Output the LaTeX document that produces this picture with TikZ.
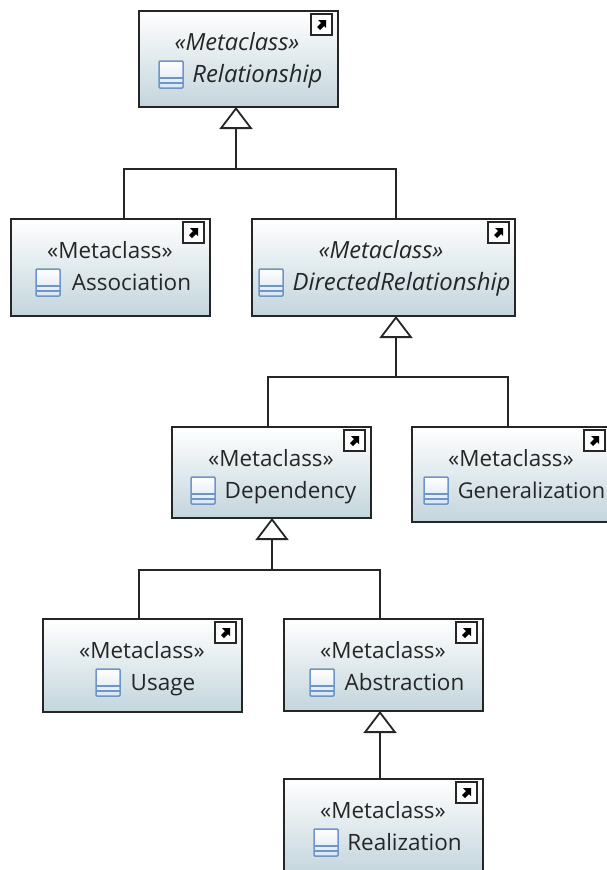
\documentclass[tikz,border=0pt]{standalone}
\usepackage{fontspec}
\setmainfont{Open Sans}
\usetikzlibrary{arrows.meta,calc}
\definecolor{boxblue}{HTML}{C3D5DC}
\definecolor{iconblue}{HTML}{6C96C8}
\tikzset{
  x=1pt,y=-1pt,
  classbox/.style={draw=black!85,line width=2pt,top color=white,bottom color=boxblue,anchor=north west,inner sep=0pt,outer sep=0pt},
  stereotext/.style={text=black!85,inner sep=0pt,anchor=base},
  nametext/.style={text=black!85,inner sep=0pt,anchor=base},
  conn/.style={draw=black!85,line width=1.8pt},
  genarrow/.style={conn,-{Triangle[open,length=22pt,width=33pt,fill=white,line width=1.8pt]}},
  iconstyle/.style={draw=iconblue,line width=1.5pt,rounded corners=1pt},
}
\newcommand{\StereoFont}{}
\newcommand{\NameFont}{}
\newcommand{\mclass}[9]{%
 % #1 name, #2 left, #3 top, #4 width, #5 height, #6 stereo centre x, #7 icon left, #8 text centre x, #9 text
 \node[classbox,minimum width=#4pt,minimum height=#5pt] (#1) at (#2,#3) {};
 \node[stereotext] (#1s) at (#6,#3+39) {\StereoFont\guillemotleft Metaclass\guillemotright};
 \node[nametext] (#1n) at (#8,#3+71) {\NameFont #9};
 \begin{scope}[shift={(#7,#3+50)}]
  \fill[top color=white,bottom color=iconblue!25] (0,0) rectangle (24,27);
  \draw[iconstyle] (0,0) rectangle (24,27);
  \draw[iconblue,line width=1.4pt] (0,17)--(24,17) (0,22)--(24,22);
 \end{scope}
 \begin{scope}[shift={(#2+#4-27,#3+3)}]
  \fill[white] (0,0) rectangle (21,21);
  \draw[black!85,line width=1.6pt] (0,0) rectangle (21,21);
  \fill[black] (7,6)--(15,6)--(15,14)--(13,12)--(9,16)--(6,13)--(10,9)--cycle;
 \end{scope}
}
\begin{document}
\begin{tikzpicture}
\useasboundingbox (0,0) rectangle (607,870);
\fill[white] (0,0) rectangle (607,870);
\renewcommand{\StereoFont}{\fontsize{23.6}{26}\selectfont\itshape}
\renewcommand{\NameFont}{\fontsize{23.9}{26}\selectfont\itshape}
\mclass{rel}{139}{11}{199}{96}{237}{159}{257.5}{Relationship}
\mclass{dirrel}{252}{219}{263}{97}{381}{259}{401.5}{DirectedRelationship}
\renewcommand{\StereoFont}{\fontsize{22.4}{26}\selectfont}
\renewcommand{\NameFont}{\fontsize{22.5}{26}\selectfont}
\mclass{assoc}{11}{219}{199}{97}{110}{36}{131.5}{Association}
\mclass{dep}{172}{427}{199}{91}{271}{191}{290.5}{Dependency}
\mclass{usage}{43}{619}{199}{93}{142}{96}{163}{Usage}
\mclass{abstr}{284}{619}{199}{92}{383}{310}{404.5}{Abstraction}
\mclass{real}{284}{779}{199}{95}{383}{314}{404.5}{Realization}
\renewcommand{\NameFont}{\fontsize{21.8}{26}\selectfont}
\mclass{gen}{412}{427}{199}{95}{511}{424}{531.5}{Generalization}
\coordinate (j1) at (236,169);
\coordinate (j2) at (396,377);
\coordinate (j3) at (272,570);
\draw[conn] (assoc.north -| 124,0) |- (j1);
\draw[conn] (dirrel.north -| 396,0) |- (j1);
\draw[genarrow] (j1) -- (rel.south -| j1);
\draw[conn] (dep.north -| 268,0) |- (j2);
\draw[conn] (gen.north -| 508,0) |- (j2);
\draw[genarrow] (j2) -- (dirrel.south -| j2);
\draw[conn] (usage.north -| 139,0) |- (j3);
\draw[conn] (abstr.north -| 380,0) |- (j3);
\draw[genarrow] (j3) -- (dep.south -| j3);
\draw[genarrow] (real.north -| 380,0) -- (abstr.south -| 380,0);
\end{tikzpicture}
\end{document}
